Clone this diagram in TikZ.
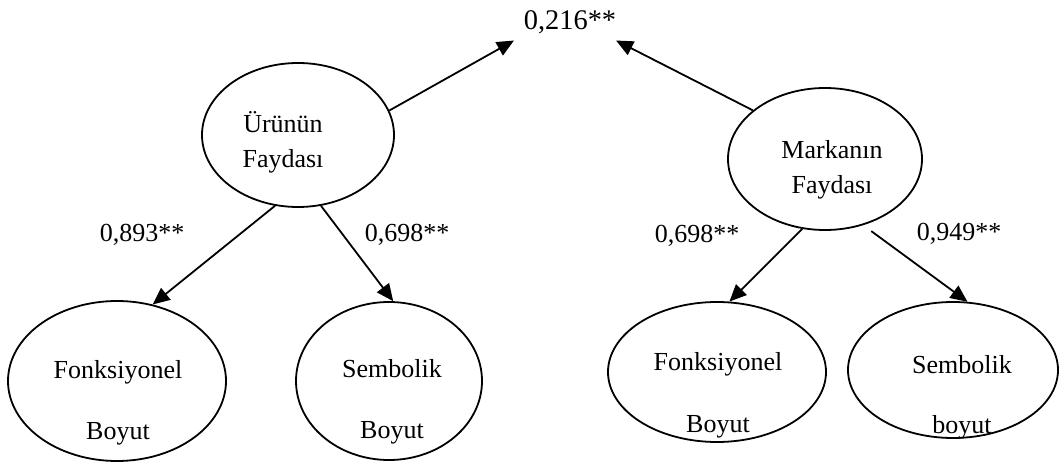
\documentclass[tikz,border=0pt]{standalone}
\usepackage{fontspec}
\setmainfont{Liberation Serif}
\usetikzlibrary{arrows.meta,shapes.geometric}

\begin{document}
\begin{tikzpicture}[->,>={Triangle[length=8.5pt,width=7.5pt]},x=0.5pt,y=-0.5pt,line width=0.9pt,
	font=\fontsize{13pt}{15.6pt}\selectfont]
	\tikzstyle{faktor}=[ellipse,draw=black,inner sep=0pt]
	\tikzstyle{metin}=[align=center,inner sep=0pt]
	\useasboundingbox (0,0) rectangle (1060,464);

	\node (etki) [inner xsep=4.5pt,inner ysep=3pt,font=\fontsize{14.2pt}{17pt}\selectfont] at (570,22) {0,216**};

	% urunun faydasi
	\node[faktor,minimum width=96pt,minimum height=72pt] (urun) at (298,135) {};
	\node[faktor,minimum width=109pt,minimum height=80pt] (ufonk) at (117,381) {};
	\node[faktor,minimum width=93pt,minimum height=79pt] (usemb) at (389,381) {};
	\node[metin] (urunT) at (283,142.5) {Ürünün\\[1.9pt]Faydası};
	\node[metin] (ufonkT) at (118,402.4) {Fonksiyonel\\[14.9pt]Boyut};
	\node[metin] (usembT) at (392,401.4) {Sembolik\\[14.9pt]Boyut};

	% markanin faydasi
	\node[faktor,minimum width=97pt,minimum height=71pt] (marka) at (825,159) {};
	\node[faktor,minimum width=109pt,minimum height=70pt] (mfonk) at (717,372) {};
	\node[faktor,minimum width=105pt,minimum height=68pt] (msemb) at (953,370) {};
	\node[metin] (markaT) at (832,169.4) {Markanın\\[1.9pt]Faydası};
	\node[metin] (mfonkT) at (718,395) {Fonksiyonel\\[15.4pt]Boyut};
	\node[metin] (msembT) at (962,397) {Sembolik\\[14.4pt]boyut};

	\path (urun.15) edge (etki.south west);
	\path (marka.146) edge ([xshift=-5pt]etki.south east);

	\path (urun.252) edge (ufonk.65);
	\path (urun.288) edge (usemb.87);
	\path (marka.252) edge (mfonk.80);
	\path (marka.300) edge [shorten <=5pt] (msemb.78);

	\node (k1) at (142,235) {0,893**};
	\node (k2) at (407,235) {0,698**};
	\node (k3) at (697,236) {0,698**};
	\node (k4) at (959,234) {0,949**};
\end{tikzpicture}
\end{document}
